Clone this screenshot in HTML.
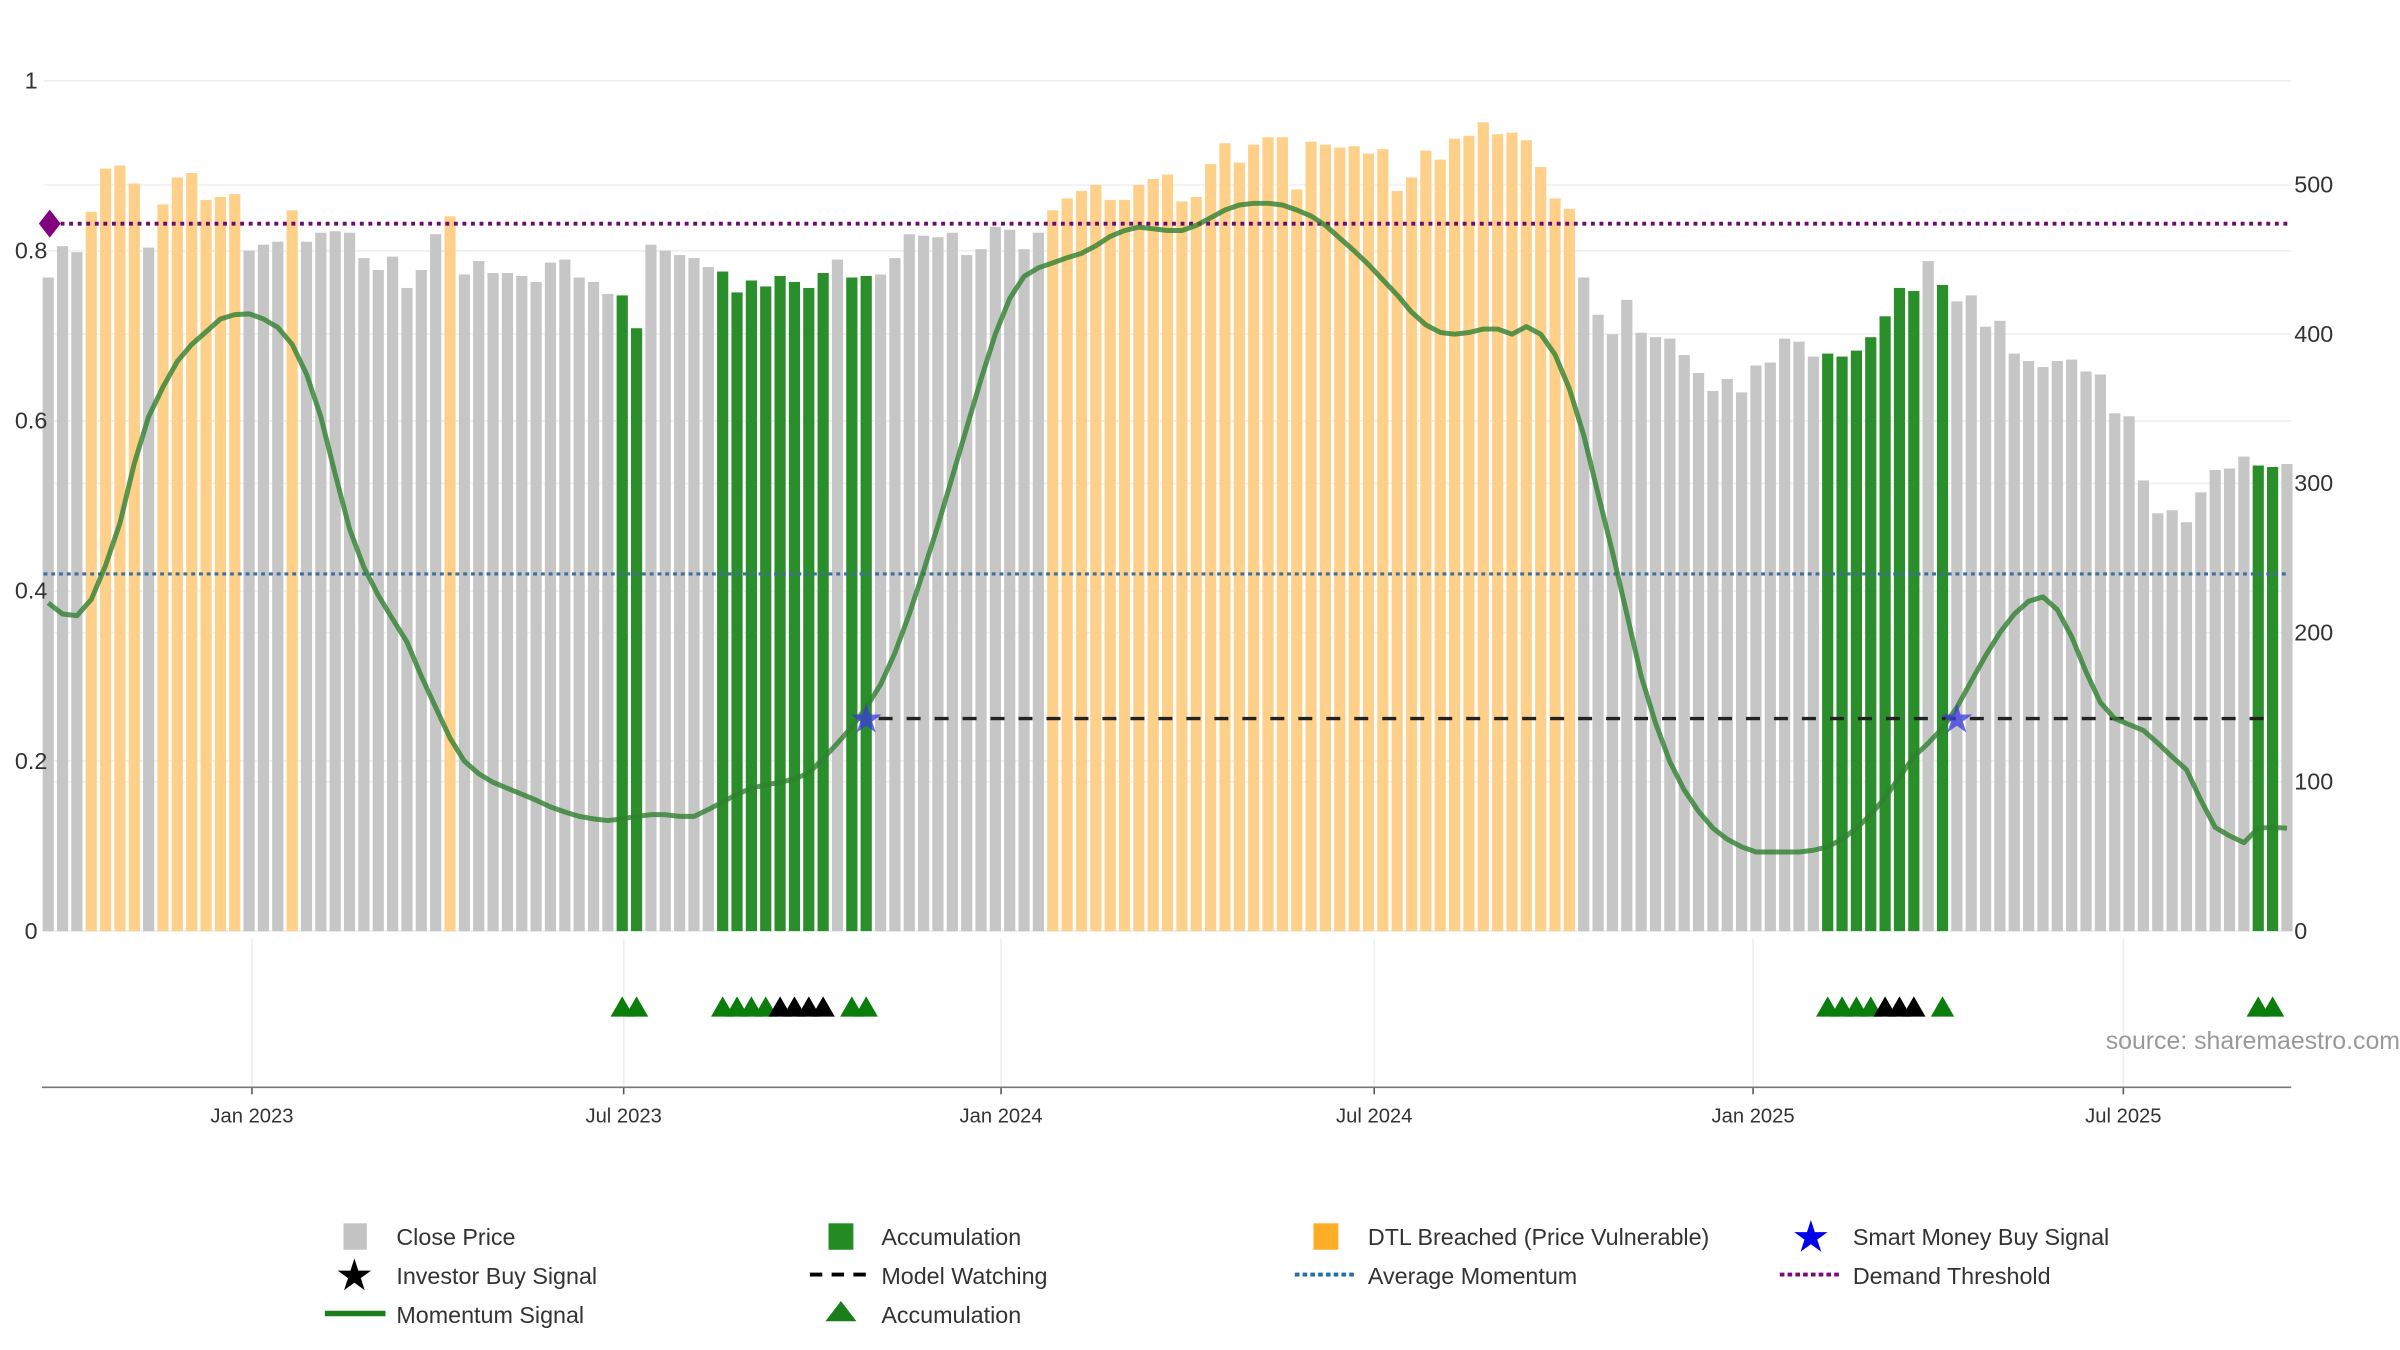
<!DOCTYPE html>
<html><head><meta charset="utf-8"><style>
html,body{margin:0;padding:0;background:#fff;}
svg{display:block;font-family:"Liberation Sans","DejaVu Sans",sans-serif;}
</style></head><body>
<svg id="chart" width="2400" height="1350" viewBox="0 0 1544 868.5" xmlns="http://www.w3.org/2000/svg">
<g id="grid"></g>
<g id="bars"></g>
<g id="lines"></g>
<g id="axes"></g>
<g id="lower"></g>
<text x="1544" y="675" text-anchor="end" font-size="16" fill="#999">source: sharemaestro.com</text>
<g id="legend" font-size="15" fill="#333">
  <g><rect x="221" y="787" width="15" height="17" fill="#c4c4c4"/><text x="255" y="801">Close Price</text></g>
  <g><rect x="533" y="787" width="16" height="17" fill="#228b22"/><text x="567" y="801">Accumulation</text></g>
  <g><rect x="845" y="787" width="16" height="17" fill="#ffad26"/><text x="880" y="801">DTL Breached (Price Vulnerable)</text></g>
  <g><text x="1165" y="805" font-size="28" fill="#0000ee" text-anchor="middle">★</text><text x="1192" y="801">Smart Money Buy Signal</text></g>
  <g><text x="228" y="830" font-size="28" fill="#000" text-anchor="middle">★</text><text x="255" y="826">Investor Buy Signal</text></g>
  <g><line x1="521" y1="820" x2="560" y2="820" stroke="#000" stroke-width="2.5" stroke-dasharray="8,6"/><text x="567" y="826">Model Watching</text></g>
  <g><line x1="833" y1="820" x2="872" y2="820" stroke="#1f6fa8" stroke-width="2.5" stroke-dasharray="3,2"/><text x="880" y="826">Average Momentum</text></g>
  <g><line x1="1145" y1="820" x2="1184" y2="820" stroke="#7a0a7a" stroke-width="2.5" stroke-dasharray="3,2"/><text x="1192" y="826">Demand Threshold</text></g>
  <g><line x1="209" y1="845" x2="248" y2="845" stroke="#1a7f1a" stroke-width="3.5"/><text x="255" y="851">Momentum Signal</text></g>
  <g><polygon points="541,837 551,850 531,850" fill="#1a7f1a"/><text x="567" y="851">Accumulation</text></g>
</g>
</svg>
<script>
const prices=[438,459,455,482,511,513,501,458,487,505,508,490,492,494,456,460,462,483,462,468,469,468,451,443,452,431,443,467,479,440,449,441,441,439,435,448,450,438,435,427,426,404,460,456,453,451,445,442,428,436,432,439,435,431,441,450,438,439,440,451,467,466,465,468,453,457,472,470,457,468,483,491,496,500,490,490,500,504,507,489,492,514,528,515,527,532,532,497,529,527,525,526,521,524,496,505,523,517,531,533,542,534,535,530,512,491,484,438,413,400,423,401,398,397,386,374,362,370,361,379,381,397,395,385,387,385,389,398,412,431,429,449,433,422,426,405,409,387,382,378,382,383,375,373,347,345,302,280,282,274,294,309,310,318,312,311,313];
const typeOverrides={0:'g',1:'g',2:'g',3:'o',4:'o',5:'o',6:'o',7:'g',8:'o',9:'o',10:'o',11:'o',12:'o',13:'o',17:'o',28:'o',40:'a',41:'a',47:'a',48:'a',49:'a',50:'a',51:'a',52:'a',53:'a',54:'a',56:'a',57:'a',124:'a',125:'a',126:'a',127:'a',128:'a',129:'a',130:'a',132:'a',154:'a',155:'a'};
const orangeRange=[70,106];
const momentum=[0.386,0.373,0.371,0.39,0.43,0.48,0.55,0.605,0.64,0.67,0.69,0.705,0.72,0.725,0.726,0.72,0.71,0.69,0.655,0.605,0.537,0.473,0.428,0.395,0.367,0.34,0.30,0.263,0.227,0.2,0.185,0.175,0.168,0.161,0.154,0.146,0.14,0.135,0.132,0.13,0.132,0.135,0.137,0.137,0.135,0.135,0.143,0.152,0.161,0.168,0.172,0.175,0.179,0.186,0.203,0.221,0.24,0.263,0.29,0.327,0.373,0.424,0.477,0.534,0.592,0.649,0.702,0.744,0.77,0.78,0.786,0.792,0.797,0.806,0.817,0.824,0.828,0.826,0.824,0.824,0.83,0.839,0.848,0.854,0.856,0.856,0.854,0.848,0.841,0.83,0.815,0.80,0.784,0.766,0.748,0.728,0.713,0.704,0.702,0.704,0.708,0.708,0.702,0.711,0.702,0.678,0.638,0.583,0.514,0.446,0.373,0.30,0.245,0.199,0.166,0.141,0.121,0.108,0.099,0.093,0.093,0.093,0.093,0.095,0.099,0.108,0.121,0.137,0.157,0.181,0.205,0.221,0.239,0.263,0.294,0.324,0.351,0.373,0.388,0.393,0.378,0.346,0.305,0.269,0.25,0.243,0.236,0.221,0.205,0.19,0.154,0.122,0.112,0.104,0.121,0.122,0.121];
const demandThreshold=0.832, avgMomentum=0.42, watchLevel=0.25;
const watchRange=[57,155];
const smartMoneyIdx=[57,133];
const triGreen=[40,41,47,48,49,50,56,57,124,125,126,127,132,154,155];
const triBlack=[51,52,53,54,128,129,130];
const leftTicks=[0,0.2,0.4,0.6,0.8,1];
const leftTickLabels=["0","0.2","0.4","0.6","0.8","1"];
const rightTicks=[0,100,200,300,400,500];
const dateTickIdx=[14.2,40.1,66.4,92.4,118.8,144.6];
const dateTickLabels=["Jan 2023","Jul 2023","Jan 2024","Jul 2024","Jan 2025","Jul 2025"];

const NS="http://www.w3.org/2000/svg";
const X0=31, STEP=9.2325, Y0=599;
const xOf=i=>X0+i*STEP;
const yL=v=>Y0-v*547;
const yR=p=>Y0-p*0.96;
function mk(tag,attrs,parent){const e=document.createElementNS(NS,tag);for(const k in attrs)e.setAttribute(k,attrs[k]);parent.appendChild(e);return e;}
const grid=document.getElementById('grid'),bars=document.getElementById('bars'),lines=document.getElementById('lines'),axes=document.getElementById('axes'),lower=document.getElementById('lower');

leftTicks.forEach((t,k)=>{
  const l=mk('line',{x1:28,x2:1474,y1:yL(t),y2:yL(t),stroke:'#eceef1','stroke-width':1},grid);
  
  
  const tx=mk('text',{x:20,y:yL(t)+5,'text-anchor':'middle','font-size':15,fill:'#333'},axes);
  tx.textContent=leftTickLabels[k];
  
  
});
rightTicks.forEach(t=>{
  const l=mk('line',{x1:28,x2:1474,y1:yR(t),y2:yR(t),stroke:'#eef0f3','stroke-width':1},grid);
  
  
  const tx=mk('text',{x:1476,y:yR(t)+5,'font-size':15,fill:'#333'},axes);
  tx.textContent=String(t);
  
  
});
dateTickIdx.forEach((d,k)=>{
  const x=xOf(d);
  const l=mk('line',{x1:x,x2:x,y1:604,y2:699,stroke:'#eceef1','stroke-width':1},grid);
  
  
  mk('line',{x1:x,x2:x,y1:699,y2:704,stroke:'#555','stroke-width':1},axes);
  const tx=mk('text',{x:x,y:722,'text-anchor':'middle','font-size':13,fill:'#333'},axes);
  tx.textContent=dateTickLabels[k];
  
  
});
const ax=mk('line',{x1:27,x2:1474,y1:699.5,y2:699.5,stroke:'#777','stroke-width':1},axes);



const colors={g:'#c6c6c6',o:'#ffd08a',a:'#2a8f2a'};
prices.forEach((p,i)=>{
  let t='g';
  if(i>=orangeRange[0]&&i<=orangeRange[1])t='o';
  if(typeOverrides[i])t=typeOverrides[i];
  const r=mk('rect',{x:xOf(i)-3.6,y:yR(p),width:7.2,height:Y0-yR(p),fill:colors[t]},bars);
  
  
});

function hline(v,x1,x2,stroke,dash,w,name){
  const l=mk('line',{x1:x1,x2:x2,y1:yL(v),y2:yL(v),stroke:stroke,'stroke-width':w,'stroke-dasharray':dash},lines);
  
  
}
hline(avgMomentum,28,1472,'#3e6f9a','2.5,2.5',2,'average-momentum-line');
hline(demandThreshold,28,1472,'#6e0a6e','2.5,3',2.5,'demand-threshold-line');
hline(watchLevel,xOf(watchRange[0])+8,xOf(watchRange[1]),'#222','9,9',2.2,'model-watching-line');
const dia=mk('polygon',{points:`32,${yL(demandThreshold)-9} 39,${yL(demandThreshold)} 32,${yL(demandThreshold)+9} 25,${yL(demandThreshold)}`,fill:'#800080'},lines);



let d='';
momentum.forEach((v,i)=>{d+=(i?'L':'M')+xOf(i).toFixed(1)+','+yL(v).toFixed(1);});
const ml=mk('path',{d:d,fill:'none',stroke:'#2f7f2f','stroke-width':3.2,'stroke-opacity':0.8,'stroke-linejoin':'round'},lines);



smartMoneyIdx.forEach(i=>{
  const s=mk('text',{x:xOf(i),y:yL(watchLevel)+9,'text-anchor':'middle','font-size':26,fill:'#3a3adf','fill-opacity':0.75},lines);
  s.textContent='★';
  
  
});

function tri(i,color){
  const x=xOf(i),y=648;
  const t=mk('polygon',{points:`${x},${y-7} ${x+7.5},${y+6} ${x-7.5},${y+6}`,fill:color},lower);
  
  
}
triGreen.forEach(i=>tri(i,'#0a7d0a'));
triBlack.forEach(i=>tri(i,'#000'));
</script>
</body></html>
